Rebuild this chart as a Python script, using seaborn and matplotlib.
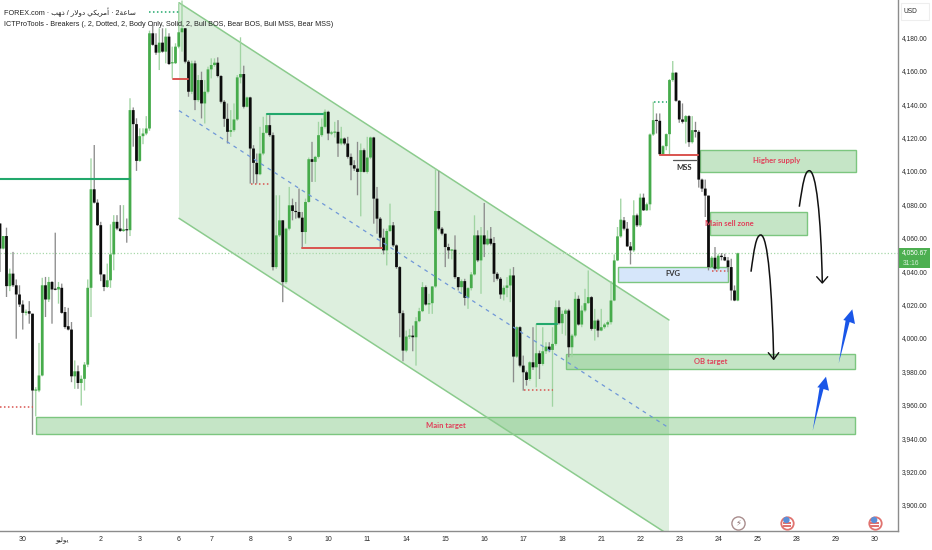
import numpy as np
import pandas as pd
import matplotlib
matplotlib.use('Agg')
import matplotlib.pyplot as plt
from matplotlib.patches import Polygon, Rectangle, PathPatch
from matplotlib.path import Path
import seaborn as sns

# 2h candles
opens = [4068.5,4053.5,4061,4031,4038.5,4031.5,4026,4020,4015.2,4016,4014.5,3968.5,
 3968.5,3977.5,4031.5,4023,4033.5,4029.3,4029,4030,4015.5,4007,4005,3977,
 3980,3973,3975.5,3984,4030,4089,4081,4067.5,4038,4030.5,4034.5,4050,
 4069.5,4065.5,4064,4065,4064.5,4136.4,4128,4106,4120.8,4122.4,4125.4,4182.4,
 4175.5,4170.8,4176.8,4171.4,4180.4,4164.5,4164.5,4174.4,4183,4185.4,4165.4,4147.4,
 4164.4,4142.4,4154.4,4140.4,4147.4,4160.8,4163.4,4164.8,4156.8,4141.4,4131.2,4123.4,
 4124.4,4130.8,4156,4158,4138.4,4144,4113.4,4104.8,4098,4110.4,4122.8,4127.4,
 4121.4,4042.4,4061.4,4070.4,4033.4,4065.4,4079.4,4076,4075.4,4072,4063.4,4081.4,
 4107,4105.4,4108.4,4121.4,4126.4,4135.4,4122.4,4123,4123.4,4116.4,4119.4,4116.4,
 4108.4,4103.4,4101.4,4099.4,4112.4,4099.4,4108,4120,4083.4,4071.4,4060,4052.4,
 4064,4067.4,4055.4,4042.4,4014.8,3992.4,4000.8,4001.4,4000.4,4010,4016,4030.4,
 4020,4020.8,4030.8,4076,4065.4,4062.4,4054.4,4052.4,4052.8,4036.4,4030.4,4034,
 4024,4029.8,4038,4061.4,4046.4,4061.4,4056,4059.4,4056.8,4038.4,4035.4,4026,
 4030,4031.4,4037.4,3988.8,4006.4,3983.4,3979.4,3975.4,3985.4,3982.4,3990.8,3984.4,
 3992,3994.8,3992.8,3996.4,4018.4,4008.8,4014.4,4016.4,3994.4,4001.4,4023.4,4008,
 4016.4,4020.8,4024.4,4005.4,4010.4,4004.4,4006.4,4008,4009.4,4022.4,4046.4,4060.8,
 4070.4,4065.4,4054.8,4052.4,4073.4,4067.4,4084,4076.4,4080,4121.8,4130.4,4130,
 4110,4114.8,4122,4154.4,4158.8,4142,4130.8,4129.4,4132.8,4117.2,4124.4,4123.4,
 4094.8,4089.4,4085.2,4042.4,4048,4041.4,4049.2,4048.4,4046.4,4042.4,4028.4,4022.4]
highs = [4068.5,4061,4066,4041.5,4051.5,4035,4031.5,4022.5,4017,4022,4014.5,3970.5,
 3997,4036,4036.5,4036.5,4034,4063,4033.5,4032.5,4018.5,4018,4009.5,3986.5,
 3983.5,3977.5,3985.5,4035,4107.5,4115.5,4083,4069.5,4038,4044.5,4068,4073.5,
 4073.5,4079.5,4079.5,4071.5,4143.5,4138,4131.5,4125.5,4125.5,4132.8,4184,4187.4,
 4182.4,4185.4,4185.4,4185.4,4182.4,4174.4,4176.4,4200.4,4202,4185.4,4166.4,4166,
 4166,4157.4,4159.4,4154.4,4162.4,4167.4,4167.4,4168,4157.4,4142.4,4140.4,4136.4,
 4140.4,4157.4,4180,4163,4144.5,4144.4,4115.4,4110.4,4126.4,4132.4,4134.4,4133.4,
 4123,4085.4,4085.4,4070.4,4066,4090.4,4083.4,4081.4,4089.4,4075.4,4083.4,4108,
 4117.4,4109,4129.4,4131.4,4136.8,4136,4124,4129.4,4130.4,4126.4,4120,4120.4,
 4110.4,4106.4,4117.4,4116.4,4113.4,4120.4,4120.5,4120.4,4090.4,4072.4,4065.4,4065.4,
 4080.4,4069.4,4056,4043,4016.4,4004.4,4005.4,4007.4,4012.4,4018,4033.4,4031.4,
 4026.4,4031,4101.4,4100,4066.4,4062.4,4056.4,4053,4061.4,4036.4,4035,4035.4,
 4030.4,4039.4,4073.4,4064.4,4066.4,4080.8,4064.4,4066.4,4060.4,4039.4,4036.4,4031.4,
 4036.4,4041.4,4042.4,4007,4007,3989.4,3980.4,3986,4006.4,4008.4,3992.4,4006.4,
 3997.4,3997.4,4006.4,4022.4,4022.4,4016.4,4017.4,4017.4,4002.4,4027.4,4025.4,4019.4,
 4029.4,4040.4,4025,4017.4,4011.4,4017.4,4009,4010.4,4034,4050,4066.4,4083.4,
 4072.4,4069.4,4057.4,4082.4,4074.4,4086.4,4086.4,4081,4122.4,4141.4,4134.4,4134.4,
 4115.4,4122.4,4155,4165.8,4159.2,4142.4,4140.4,4133.4,4133.4,4132.8,4129.4,4124.4,
 4095.4,4094.8,4085.2,4049,4054.4,4050.4,4050.8,4050.4,4048.4,4047.4,4031.4,4051]
lows = [4039.5,4053,4024.5,4028,4030.5,3999.5,4018.5,4005,4013.5,4008.5,3942,3953,
 3967.5,3977,4012.5,4021.5,4008.5,4028.5,4020.5,4014.5,4005.5,4004.5,3973.5,3969.5,
 3969.5,3959.5,3968.5,3982.5,4012.5,4080.5,4067,4034,4028,4030,4030,4040.5,
 4064.5,4063.5,4063.5,4057,4061,4114.5,4100,4105.5,4116,4121.4,4124,4175,
 4169.5,4160.4,4170.8,4164.4,4163.4,4155.4,4164,4173.4,4171.4,4164.4,4144.4,4146,
 4136.4,4141.4,4131.4,4128.4,4146.4,4155.4,4162.4,4156,4140.4,4126.4,4116.4,4120.4,
 4123.4,4130,4152.4,4137.4,4138,4092.4,4092.4,4092.4,4097.4,4109.4,4122.4,4120.4,
 4040.4,4041.4,4060.4,4021.4,4032.4,4064.4,4070.4,4071.4,4071.4,4054,4056.4,4081,
 4093.4,4093.4,4107.4,4120.4,4125.4,4118.4,4121.4,4120,4108.4,4115.4,4115.4,4107.4,
 4094.4,4100,4085.4,4072.8,4099,4098.4,4107,4068.4,4062.4,4054.4,4050,4043.4,
 4063.4,4054.4,4041.4,4000.4,3986,3991.4,3999.4,3992,3983.4,4009.4,4015.4,4019.4,
 4014.4,4014.4,4030,4064.4,4061.4,4042.4,4047.4,4047,4035.4,4028.4,4026.4,4019.4,
 4017.4,4028.4,4037.4,4045.4,4026.4,4048.4,4055.4,4055.4,4033.4,4034.4,4023.4,4022.4,
 4024.4,4021.4,3973.4,3988,3982.4,3968.4,3971.4,3974.4,3980.8,3970.4,3975.4,3983.4,
 3990.4,3991.4,3958.8,3995.4,4008,4002.4,4001.4,3988.4,3988.4,4000.4,4007.4,4006.4,
 4015.4,4020.4,4004.4,3998.4,4000.4,4004,4005.4,4006.4,4008,4022,4046,4060,
 4064.4,4054.4,4044,4051.4,4066.4,4066.4,4076,4076,4076.4,4121,4122.4,4109.2,
 4109.4,4112.4,4109.4,4153.4,4141.4,4128.8,4128.4,4116.4,4114.4,4116.4,4120,4090,
 4087.4,4072.4,4040.4,4042,4040.4,4040.4,4046.4,4046,4039.4,4022.4,4022,4022]
closes = [4053.5,4061,4031,4038.5,4031.5,4026,4020,4015,4015.5,4014.5,3968.5,3969,
 3977.5,4031.5,4023,4033.5,4029,4029,4030.5,4015,4006.5,4005,3977,3980,
 3973,3975.5,3984,4030,4089,4081,4067.5,4038,4030.5,4034.5,4050,4069.5,
 4065.5,4064,4065,4064.5,4136.4,4128,4106,4120.8,4122.4,4125.4,4182.4,4175.5,
 4170.8,4176.8,4171.4,4180.4,4164,4165,4174.4,4183,4185.4,4165.4,4147.4,4164.4,
 4142.4,4154.4,4140.4,4147.4,4160.8,4163.4,4164.8,4156.8,4141.4,4131.2,4123.4,4124.4,
 4130.8,4156,4158,4138.4,4144,4113.4,4104.8,4098,4110.4,4122.8,4127.4,4121.4,
 4042.4,4061.4,4070.4,4033.4,4065.4,4079.4,4076,4075.4,4072,4063.4,4081.4,4107,
 4105.4,4108.4,4121.4,4126.4,4135.4,4122.4,4123,4123.4,4116.4,4119.4,4116.4,4108.4,
 4103.4,4101.4,4099.4,4112.4,4099.4,4108,4120,4083.4,4071.4,4060,4052.4,4064,
 4067.4,4055.4,4042.4,4014.8,3992.4,4000.8,4001.4,4000.4,4010,4016,4030.4,4020,
 4020.8,4030.8,4076,4065.4,4062.4,4054.4,4052.4,4052.8,4036.4,4030.4,4034,4024,
 4029.8,4038,4061.4,4046.4,4061.4,4056,4059.4,4056.4,4038.4,4035.4,4026,4030,
 4031.4,4037.4,3988.8,4006.4,3983.4,3979.4,3974.8,3985.4,3982.4,3990.8,3984.4,3992,
 3994.8,3992.8,3996.4,4018.4,4008.8,4014.4,4016.4,3994.4,4001.4,4023.4,4008,4016.4,
 4020.8,4024.4,4005.4,4010.4,4004.4,4006.4,4008,4009.4,4022.4,4046.4,4060.8,4070.8,
 4065.4,4054.8,4052.4,4073.4,4067.4,4084,4076.4,4080,4121.8,4130.4,4130,4110,
 4114.8,4122,4154.4,4158.8,4142,4130.8,4129.4,4132.8,4117.2,4124.4,4123.4,4094.8,
 4089.4,4085.2,4042.4,4048,4041.4,4049.2,4048.4,4046.4,4042.4,4028.4,4022.4,4050.67]

price_ticks = list(range(3900, 4181, 20))
date_pos = [7,19,31,43,55,65,77,89,101,113,125,137,149,161,173,185,197,209,221,233,245,257,269]
# month name as shaped glyphs in drawing order, matplotlib does no bidi
date_labels = ['30','\ufeee\ufef4\ufedf\ufeee\ufef3','2','3','6','7','8','9','10','11','14','15','16','17','18',
               '21','22','23','24','25','28','29','30']
last_price = 4050.67

sns.set_theme(style='white')
plt.rcParams['font.family'] = ['Liberation Sans', 'DejaVu Sans']

W, H = 932, 550
fig = plt.figure(figsize=(W / 100, H / 100), dpi=100)
ax = fig.add_axes([0, 19 / H, 898 / W, 531 / H])

# helpers for the hand drawn stuff, picture pixels -> bar index / price
def bx(px):
    return px / 3.25
def pr(py):
    return 4180 - (py - 37.3) / 1.67

df = pd.DataFrame({'i': range(len(opens)), 'o': opens, 'h': highs, 'l': lows, 'c': closes})
df['dir'] = np.where(df.c >= df.o, 'up', 'down')

wicks = df.melt(id_vars=['i', 'dir'], value_vars=['h', 'l'], value_name='price')
bodies = df.copy()
# dojis still get about a pixel of body
mid = (bodies.o + bodies.c) / 2
half = np.maximum(abs(bodies.o - bodies.c) / 2, 0.35)
bodies['top'] = mid + half
bodies['bot'] = mid - half
bodies = bodies.melt(id_vars=['i', 'dir'], value_vars=['top', 'bot'], value_name='price')

sns.lineplot(data=wicks, x='i', y='price', hue='dir', units='i', estimator=None, sort=False,
             palette={'up': '#a0d4a2', 'down': '#8c8c8c'}, lw=0.95, legend=False, ax=ax,
             solid_capstyle='butt', zorder=2, snap=False)
sns.lineplot(data=bodies, x='i', y='price', hue='dir', units='i', estimator=None, sort=False,
             palette={'up': '#46ab4b', 'down': '#0c0c0c'}, lw=2.0, legend=False, ax=ax,
             solid_capstyle='butt', zorder=2.1, snap=False)

ax.set_xlim(0, 898 / 3.25)
ax.set_ylim(pr(531), pr(0))

# channel
ax.add_patch(Polygon([(bx(179), pr(2.7)), (bx(669), pr(320)), (bx(669), pr(535)), (bx(179), pr(218.3))],
                     closed=True, fc='#4caf50', alpha=0.19, ec='none', zorder=1))
ax.plot([bx(179), bx(669)], [pr(2.7), pr(320)], color='#8bcb8d', lw=1.1, zorder=1.5)
ax.plot([bx(179), bx(669)], [pr(218.3), pr(535)], color='#8bcb8d', lw=1.1, zorder=1.5)
ax.plot([bx(179), bx(669)], [pr(110.6), pr(428)], color='#6f97d8', lw=0.9, ls=(0, (3, 3.5)), zorder=2.2)

# zones
def zone(x0, x1, top, bottom, fc='#4caf50', alpha=0.32):
    ax.add_patch(Rectangle((bx(x0), bottom), bx(x1) - bx(x0), top - bottom, fc=fc, alpha=alpha, ec='none', zorder=1.2))
    ax.add_patch(Rectangle((bx(x0), bottom), bx(x1) - bx(x0), top - bottom, fc='none', ec='#7cc67f', lw=1.0, zorder=1.3))

zone(36, 855.3, 3952.8, 3942.6)
zone(566, 855.3, 3990.2, 3981.4)
zone(700, 855.7, 4112.5, 4099.5)
zone(710, 806.7, 4075.4, 4061.6)
zone(618.3, 728.3, 4042.6, 4033.7, fc='#bbd6f8', alpha=0.6)

red = '#e0405a'
for txt, x, py, col in [('Higher supply', 777, 160, red), ('Main sell zone', 729, 223, red),
                        ('OB target', 710.7, 361, red), ('Main target', 446, 425, red),
                        ('FVG', 673, 273, '#333333'), ('MSS', 684.5, 167, '#333333')]:
    ax.text(bx(x), pr(py), txt, color=col, fontsize=5.5, family=['Lato', 'DejaVu Sans'], weight='bold',
            ha='center', va='center', zorder=5)

# breaker levels
green_line = '#22a86c'
red_line = '#d9534f'
for x0, x1, p in [(0, 130, 4095.4), (266.7, 323, 4133.9), (536.7, 556.7, 4008.3)]:
    ax.plot([bx(x0), bx(x1)], [p, p], color=green_line, lw=1.5, zorder=2.3)
for x0, x1, p in [(172.7, 187.5, 4155.2), (302.3, 381.7, 4054), (660, 698.3, 4109.3)]:
    ax.plot([bx(x0), bx(x1)], [p, p], color=red_line, lw=1.4, zorder=2.3)
for x0, x1, p in [(149.3, 179, 4195.4), (654, 666.7, 4141.4)]:
    ax.plot([bx(x0), bx(x1)], [p, p], color=green_line, lw=1.1, ls=(0, (1, 1.6)), zorder=2.3)
for x0, x1, p in [(0, 32.5, 3958.8), (250.7, 270, 4092.2), (524, 553.3, 3968.8), (711.7, 728.3, 4039.8)]:
    ax.plot([bx(x0), bx(x1)], [p, p], color=red_line, lw=1.1, ls=(0, (1, 1.6)), zorder=2.3)
ax.plot([bx(672.7), bx(696)], [pr(160), pr(160)], color='#555555', lw=0.9, zorder=2.3)

# last price line
ax.axhline(last_price, color='#a8d8aa', lw=0.9, ls=(0, (1, 1.6)), zorder=1.6)

# curved black arrows
def curve(pts, barbs):
    verts = [(bx(a), pr(b)) for a, b in pts]
    codes = [Path.MOVETO] + [Path.CURVE4] * (len(verts) - 1)
    ax.add_patch(PathPatch(Path(verts, codes), fc='none', ec='#111111', lw=1.1, zorder=4))
    ax.plot([bx(a) for a, b in barbs], [pr(b) for a, b in barbs], color='#111111', lw=1.0, zorder=4)

curve([(799.3, 206.7), (803, 182), (805, 170.7), (809.3, 170.7), (816, 170.7), (821, 215), (822.3, 283)],
      [(816.7, 276.7), (822.3, 283), (827.7, 276.7)])
curve([(751, 271.7), (754, 250), (756, 235), (760.7, 235), (768, 235), (772, 290), (773.7, 359.3)],
      [(768.3, 352.7), (773.7, 359.3), (778.7, 352.7)])

# blue arrows
for pts in [[(812.7, 430.7), (819.6, 387.6), (817.3, 387.3), (826, 376.7), (829, 390.7), (823.5, 389)],
            [(838.7, 363.3), (845.6, 320.6), (843.3, 320), (852.3, 309.3), (855, 324), (849.6, 322)]]:
    ax.add_patch(Polygon([(bx(a), pr(b)) for a, b in pts], closed=True, fc='#1a56e8', ec='none', zorder=4))

# event icons under the bars
ax.scatter([bx(787), bx(874.7)], [pr(522.7)] * 2, s=80, fc='white', ec='#e0736f', lw=1.3, zorder=5, clip_on=False)
for cx in [787, 874.7]:
    ax.add_patch(Rectangle((bx(cx - 4.3), pr(527)), bx(8.6), pr(524.5) - pr(527), fc='#e0736f', ec='none', zorder=6))
    ax.add_patch(Rectangle((bx(cx - 4.3), pr(523.5)), bx(8.6), pr(522) - pr(523.5), fc='#e0736f', ec='none', zorder=6))
    ax.scatter([bx(cx - 0.6)], [pr(520)], s=22, fc='#5b8fd8', ec='none', zorder=6.5)
ax.scatter([bx(738.3)], [pr(522.7)], s=90, fc='white', ec='#a98d8d', lw=1.0, zorder=5, clip_on=False)
ax.text(bx(738.3), pr(522.7), '\u26a1', fontsize=6, color='#8a7070', family='DejaVu Sans', ha='center', va='center', zorder=6)

# axes dressing
sns.despine(ax=ax, left=True, top=True, right=False, bottom=False)
for side in ['right', 'bottom']:
    ax.spines[side].set_color('#8c8c8c')
    ax.spines[side].set_linewidth(1.0)
ax.grid(False)
ax.set_xlabel('')
ax.set_ylabel('')
ax.yaxis.tick_right()
ax.set_yticks(price_ticks)
ax.set_yticklabels([f'{p:,.2f}' for p in price_ticks])
ax.set_xticks(date_pos)
ax.set_xticklabels(date_labels)
ax.tick_params(axis='y', length=0, pad=3, labelsize=4.8, labelcolor='#2a2a2a')
ax.tick_params(axis='x', length=0, pad=3.5, labelsize=5, labelcolor='#2a2a2a')

# price tag and currency box live outside the axes
fig.add_artist(Rectangle((899 / W, 1 - 268 / H), 31 / W, 20 / H, fc='#4caf50', ec='none', transform=fig.transFigure, zorder=10))
fig.text(914.5 / W, 1 - 253 / H, '4,050.67', color='white', fontsize=4.8, ha='center', va='center', zorder=11)
fig.text(903 / W, 1 - 263 / H, '31:16', color='#d8efd9', fontsize=4.8, ha='left', va='center', zorder=11)
fig.add_artist(Rectangle((901 / W, 1 - 20 / H), 28 / W, 17 / H, fc='white', ec='#eeeeee', lw=0.8, transform=fig.transFigure, zorder=10))
fig.text(910 / W, 1 - 11.5 / H, 'USD', color='#2a2a2a', fontsize=4.8, ha='center', va='center', zorder=11)

# header, arabic written as shaped glyphs left to right
symbol = ('\ufe90\ufeec\ufeab / \ufead\ufefb\ufeed\ufea9 \ufef2\ufedc\ufef3\ufeae\ufee3\ufe83'
          ' \u00b7 2\ufe94\ufecb\ufe8e\ufeb3')
fig.text(4 / W, 1 - 12 / H, 'FOREX.com \u00b7 ' + symbol, color='#222222', fontsize=5.2, va='center', ha='left')
fig.text(4 / W, 1 - 24 / H, 'ICTProTools - Breakers (, 2, Dotted, 2, Body Only, Solid, 2, Bull BOS, Bear BOS, Bull MSS, Bear MSS)',
         color='#222222', fontsize=5.2, va='center', ha='left')

fig.savefig('out.png', dpi=100, facecolor='white')
